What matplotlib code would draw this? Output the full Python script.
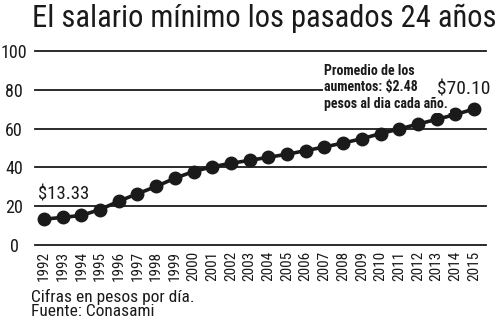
import matplotlib.pyplot as plt

years = list(range(1992, 2016))
salario = [13.33, 14.27, 15.27, 18.30, 22.60, 26.45, 30.20, 34.45, 37.90, 40.35,
           42.15, 43.65, 45.24, 46.80, 48.67, 50.57, 52.59, 54.80, 57.46, 59.82,
           62.33, 64.76, 67.29, 70.10]
yticks = [0, 20, 40, 60, 80, 100]

plt.rcParams['font.family'] = ['Roboto Condensed', 'DejaVu Sans']

ink = '#1a1a1a'
fig = plt.figure(figsize=(5, 3.25), dpi=100)
ax = fig.add_axes([0.07, 0.246, 0.902, 0.597])

for v in yticks:
    ax.axhline(v, color=ink, lw=1.3, zorder=1, clip_on=False)
ax.plot(years, salario, color=ink, lw=2.6, marker='o', ms=9, zorder=3)

ax.set_xlim(1992 - 0.48, 2015 + 0.64)
ax.set_ylim(0, 100)
ax.set_xticks(years)
ax.set_xticklabels([str(y) for y in years], rotation=90, fontsize=11, color=ink)
ax.set_yticks(yticks)
ax.set_yticklabels([str(v) for v in yticks], fontsize=13, color=ink, ha='center')
ax.tick_params(length=0, pad=4)
ax.tick_params(axis='y', pad=15)
for s in ax.spines.values():
    s.set_visible(False)

# etiquetas de los extremos
ax.text(1992 - 0.3, 21.5, '$13.33', fontsize=13.5, color=ink, va='bottom', ha='left')
ax.text(2015.86, 77.6, '$70.10', fontsize=14, color=ink, va='baseline', ha='right', zorder=5,
        bbox=dict(facecolor='white', edgecolor='none', pad=0.3))
ax.text(2007.0, 93.5, 'Promedio de los\naumentos: $2.48\npesos al dia cada año.',
        fontsize=10, fontweight='bold', color=ink, va='top', ha='left', linespacing=1.25,
        bbox=dict(facecolor='white', edgecolor='none', pad=1), zorder=4)

fig.text(0.064, 0.99, 'El salario mínimo los pasados 24 años', fontsize=22,
         color=ink, va='top', ha='left')
fig.text(0.062, 0.02, 'Cifras en pesos por día.\nFuente: Conasami', fontsize=12.5,
         color=ink, va='bottom', ha='left', linespacing=0.9)

fig.savefig('out.png', dpi=100, facecolor='white')
